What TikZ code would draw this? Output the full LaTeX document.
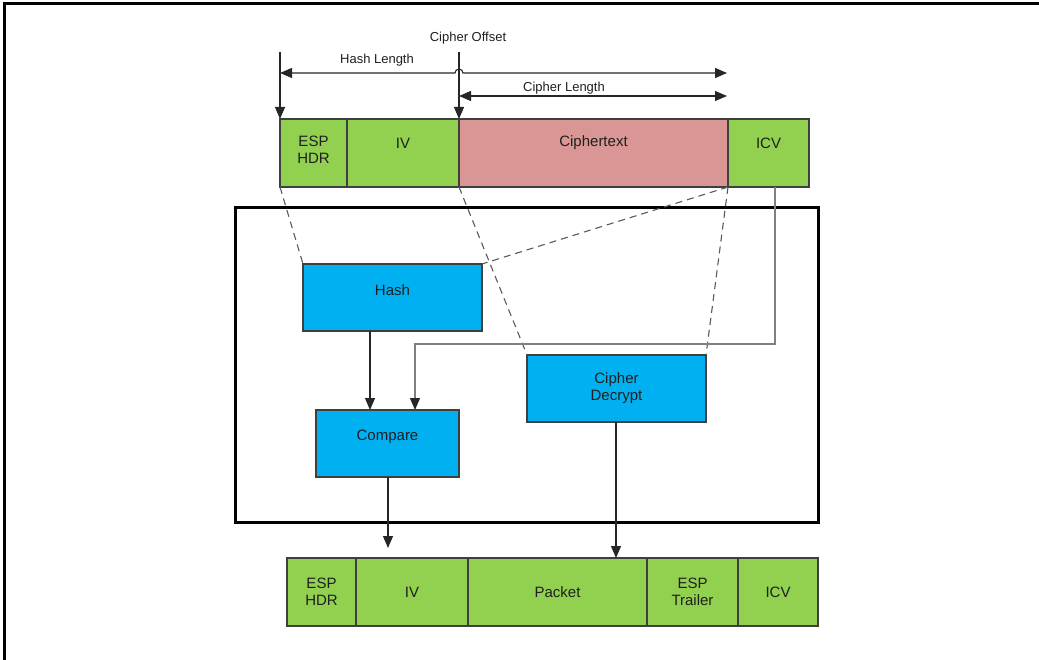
\documentclass[tikz,border=0pt]{standalone}
\usepackage{fontspec}
\setmainfont{Liberation Sans}
\usetikzlibrary{arrows.meta}
\definecolor{cgreen}{HTML}{92D050}
\definecolor{cpink}{HTML}{D99694}
\definecolor{cblue}{HTML}{00B0F0}
\definecolor{cedge}{HTML}{3F3F3F}
\definecolor{ctext}{HTML}{1F1F1F}
\tikzset{
  cell/.style={draw=cedge, line width=1.1pt, inner sep=0pt, outer sep=0pt, anchor=north west},
  gcell/.style={cell, fill=cgreen},
  pcell/.style={cell, fill=cpink},
  bbox/.style={cell, fill=cblue},
  lbl/.style={font=\fontsize{15}{17}\selectfont, text=ctext, align=center, inner sep=0pt},
  ann/.style={font=\fontsize{13}{15}\selectfont, text=ctext, inner sep=0pt},
  arr/.style={line width=1.1pt, draw=black!85, -{Triangle[length=12pt,width=10pt]}},
  darr/.style={line width=1.1pt, draw=black!85, {Triangle[length=12pt,width=10pt]}-{Triangle[length=12pt,width=10pt]}},
  dashln/.style={line width=1.1pt, draw=black!65, dash pattern=on 7pt off 5pt},
  gline/.style={line width=1.2pt, draw=black!50},
}
\begin{document}
\begin{tikzpicture}[x=1pt,y=-1pt]
\useasboundingbox (0,0) rectangle (1039,660);
% outer frame (top and left visible)
\draw[line width=3pt] (4,660) -- (4,4) -- (1039,4);
% top packet
\node[gcell, minimum width=67pt, minimum height=68pt] (t1) at (280,119) {};
\node[gcell, minimum width=112pt, minimum height=68pt] (t2) at (347,119) {};
\node[pcell, minimum width=269pt, minimum height=68pt] (t3) at (459,119) {};
\node[gcell, minimum width=81pt, minimum height=68pt] (t4) at (728,119) {};
\node[lbl] at ([yshift=3pt]t1.center) {ESP\\HDR};
\node[lbl] at ([yshift=10pt]t2.center) {IV};
\node[lbl] at ([yshift=10pt]t3.center) {Ciphertext};
\node[lbl] at ([yshift=10pt]t4.center) {ICV};
% annotations
\coordinate (hl0) at (280,52);
\coordinate (co0) at (459,52);
\coordinate (hlL) at (280,73);
\coordinate (hlR) at (727,73);
\coordinate (clL) at (459,96);
\coordinate (clR) at (727,96);
\node[ann] (tco) at (468,38) {Cipher Offset};
\node[ann] (thl) at (377,60) {Hash Length};
\node[ann] (tcl) at (564,88) {Cipher Length};
\draw[arr] (hl0) -- (t1.north west);
\draw[arr] (co0) -- (t3.north west);
\draw[darr] (hlL) -- (455,73) arc[start angle=180, end angle=0, radius=4pt] -- (hlR);
\draw[darr] (clL) -- (clR);
% processing box
\draw[line width=3pt] (235,208) rectangle (818,522);
\node[bbox, minimum width=179pt, minimum height=67pt] (hash) at (303,264) {};
\node[lbl] at ([yshift=7pt]hash.center) {Hash};
\node[bbox, minimum width=143pt, minimum height=67pt] (cmp) at (316,410) {};
\node[lbl] at ([yshift=7pt]cmp.center) {Compare};
\node[bbox, minimum width=179pt, minimum height=67pt] (dec) at (527,355) {};
\node[lbl] at (dec.center) {Cipher\\Decrypt};
% dashed mapping lines
\draw[dashln] (t1.south west) -- (hash.north west);
\draw[dashln] (t4.south west) -- (hash.north east);
\draw[dashln] (t3.south west) -- (dec.north west);
\draw[dashln] (t4.south west) -- (dec.north east);
% connectors
\draw[gline, -{Triangle[length=12pt,width=10pt,color=black!85]}] (t4.south west) ++(47,0) coordinate (icvb) -- (775,344) -- (415,344) -- (415,410);
\draw[arr] (hash.south west) ++(67,0) -- (370,410);
% bottom packet
\node[gcell, minimum width=69pt, minimum height=68pt] (b1) at (287,558) {};
\node[gcell, minimum width=112pt, minimum height=68pt] (b2) at (356,558) {};
\node[gcell, minimum width=179pt, minimum height=68pt] (b3) at (468,558) {};
\node[gcell, minimum width=91pt, minimum height=68pt] (b4) at (647,558) {};
\node[gcell, minimum width=80pt, minimum height=68pt] (b5) at (738,558) {};
\node[lbl] at (b1.center) {ESP\\HDR};
\node[lbl] at (b2.center) {IV};
\node[lbl] at (b3.center) {Packet};
\node[lbl] at (b4.center) {ESP\\Trailer};
\node[lbl] at (b5.center) {ICV};
\draw[arr] (cmp.south west) ++(72,0) -- (388,548);
\draw[arr] (dec.south west) ++(89,0) -- (616,558);
\end{tikzpicture}
\end{document}
